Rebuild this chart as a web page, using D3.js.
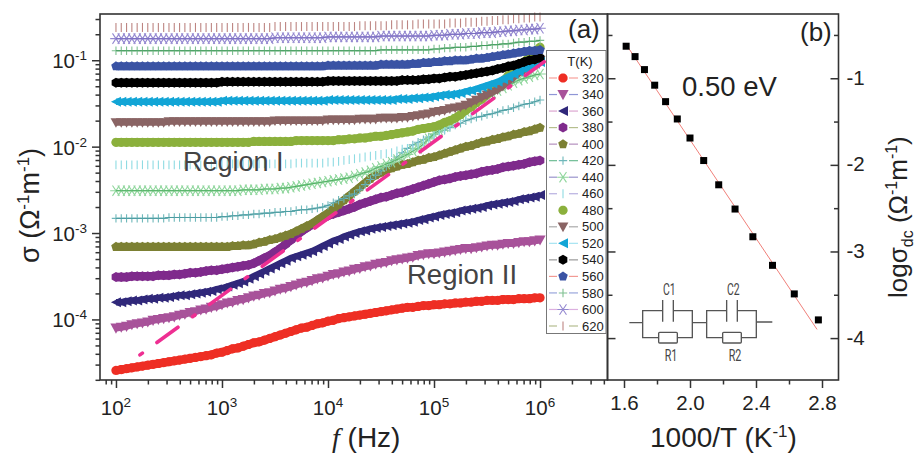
<!DOCTYPE html>
<html>
<head>
<meta charset="utf-8">
<script src="https://cdn.jsdelivr.net/npm/d3@7"></script>
<style>
  html, body { margin: 0; padding: 0; background: #fff; }
  text { font-family: "Liberation Sans", Arial, sans-serif; fill: #222; }
</style>
</head>
<body>
<div id="chart"></div>
<script>
// log10(sigma) per temperature. Sweep runs 10^2 .. 10^6 Hz, 20 points per decade
const sigma320 = [-4.59,-4.58,-4.57,-4.56,-4.55,-4.54,-4.53,-4.52,-4.51,-4.50,-4.49,-4.48,-4.47,-4.46,-4.45,-4.44,-4.43,-4.42,-4.41,-4.39,
  -4.38,-4.36,-4.34,-4.33,-4.31,-4.29,-4.27,-4.26,-4.24,-4.22,-4.20,-4.18,-4.16,-4.14,-4.12,-4.10,-4.09,-4.07,-4.05,-4.04,
  -4.02,-4.01,-3.99,-3.98,-3.97,-3.96,-3.95,-3.94,-3.93,-3.92,-3.91,-3.90,-3.89,-3.88,-3.87,-3.86,-3.86,-3.85,-3.84,-3.84,
  -3.83,-3.83,-3.82,-3.82,-3.81,-3.81,-3.80,-3.80,-3.79,-3.79,-3.78,-3.78,-3.78,-3.77,-3.77,-3.77,-3.76,-3.76,-3.76,-3.75,-3.75];
const sigma340 = [-4.10,-4.09,-4.08,-4.06,-4.05,-4.04,-4.03,-4.01,-4.00,-3.99,-3.98,-3.97,-3.95,-3.94,-3.92,-3.91,-3.89,-3.88,-3.86,-3.85,
  -3.83,-3.81,-3.80,-3.78,-3.77,-3.75,-3.73,-3.72,-3.70,-3.69,-3.67,-3.65,-3.64,-3.62,-3.60,-3.58,-3.57,-3.55,-3.53,-3.52,
  -3.50,-3.48,-3.47,-3.45,-3.44,-3.42,-3.41,-3.39,-3.38,-3.36,-3.35,-3.34,-3.32,-3.31,-3.30,-3.29,-3.28,-3.26,-3.25,-3.24,
  -3.24,-3.23,-3.22,-3.21,-3.20,-3.19,-3.18,-3.18,-3.17,-3.16,-3.15,-3.14,-3.14,-3.13,-3.12,-3.12,-3.11,-3.10,-3.10,-3.09,-3.08];
const sigma360 = [-3.80,-3.80,-3.79,-3.78,-3.78,-3.77,-3.76,-3.76,-3.75,-3.75,-3.74,-3.73,-3.72,-3.72,-3.71,-3.70,-3.69,-3.68,-3.67,-3.65,
  -3.64,-3.62,-3.60,-3.58,-3.56,-3.53,-3.50,-3.47,-3.44,-3.41,-3.38,-3.35,-3.32,-3.29,-3.27,-3.25,-3.23,-3.21,-3.18,-3.15,
  -3.12,-3.09,-3.07,-3.04,-3.02,-3.00,-2.98,-2.97,-2.95,-2.94,-2.93,-2.92,-2.91,-2.90,-2.89,-2.88,-2.87,-2.85,-2.84,-2.82,
  -2.81,-2.79,-2.78,-2.77,-2.76,-2.74,-2.73,-2.72,-2.71,-2.70,-2.68,-2.67,-2.66,-2.65,-2.64,-2.63,-2.61,-2.60,-2.59,-2.58,-2.56];
const sigma380 = [-3.51,-3.51,-3.51,-3.50,-3.50,-3.50,-3.50,-3.50,-3.49,-3.49,-3.49,-3.48,-3.48,-3.47,-3.46,-3.46,-3.45,-3.44,-3.43,-3.43,
  -3.42,-3.41,-3.40,-3.39,-3.38,-3.37,-3.35,-3.32,-3.29,-3.26,-3.22,-3.18,-3.13,-3.08,-3.03,-2.98,-2.94,-2.90,-2.86,-2.83,
  -2.80,-2.78,-2.76,-2.74,-2.72,-2.70,-2.67,-2.65,-2.63,-2.61,-2.59,-2.58,-2.56,-2.54,-2.53,-2.51,-2.49,-2.47,-2.45,-2.43,
  -2.41,-2.39,-2.38,-2.37,-2.35,-2.34,-2.33,-2.32,-2.31,-2.29,-2.28,-2.27,-2.26,-2.24,-2.23,-2.22,-2.21,-2.20,-2.18,-2.17,-2.16];
const sigma400 = [-3.16,-3.16,-3.16,-3.16,-3.16,-3.16,-3.16,-3.16,-3.16,-3.16,-3.16,-3.16,-3.16,-3.16,-3.16,-3.16,-3.16,-3.16,-3.16,-3.16,
  -3.16,-3.16,-3.15,-3.15,-3.14,-3.14,-3.13,-3.11,-3.10,-3.08,-3.07,-3.05,-3.03,-3.01,-2.98,-2.95,-2.92,-2.89,-2.85,-2.81,
  -2.77,-2.72,-2.67,-2.62,-2.57,-2.52,-2.47,-2.42,-2.37,-2.33,-2.30,-2.27,-2.25,-2.23,-2.21,-2.20,-2.18,-2.16,-2.15,-2.13,
  -2.12,-2.10,-2.08,-2.06,-2.04,-2.02,-2.00,-1.99,-1.97,-1.95,-1.94,-1.92,-1.91,-1.89,-1.88,-1.86,-1.85,-1.83,-1.82,-1.80,-1.78];
const sigma420 = [-2.83,-2.83,-2.83,-2.83,-2.83,-2.83,-2.83,-2.83,-2.83,-2.83,-2.82,-2.82,-2.82,-2.82,-2.82,-2.82,-2.82,-2.82,-2.82,-2.82,
  -2.81,-2.81,-2.80,-2.80,-2.79,-2.79,-2.78,-2.78,-2.77,-2.77,-2.76,-2.76,-2.75,-2.75,-2.74,-2.73,-2.73,-2.72,-2.71,-2.70,
  -2.68,-2.65,-2.62,-2.60,-2.57,-2.55,-2.50,-2.44,-2.38,-2.33,-2.28,-2.23,-2.18,-2.12,-2.07,-2.02,-1.98,-1.95,-1.92,-1.89,
  -1.86,-1.83,-1.81,-1.78,-1.75,-1.73,-1.70,-1.68,-1.66,-1.65,-1.63,-1.62,-1.60,-1.58,-1.57,-1.55,-1.53,-1.51,-1.50,-1.48,-1.46];
const sigma440 = [-2.51,-2.51,-2.51,-2.51,-2.51,-2.51,-2.51,-2.51,-2.51,-2.51,-2.51,-2.51,-2.51,-2.51,-2.51,-2.51,-2.51,-2.51,-2.51,-2.51,
  -2.51,-2.51,-2.51,-2.51,-2.50,-2.50,-2.50,-2.50,-2.49,-2.49,-2.49,-2.48,-2.48,-2.47,-2.46,-2.45,-2.44,-2.43,-2.42,-2.41,
  -2.40,-2.39,-2.38,-2.37,-2.36,-2.34,-2.32,-2.30,-2.28,-2.25,-2.23,-2.20,-2.18,-2.15,-2.12,-2.09,-2.05,-2.02,-1.97,-1.91,
  -1.85,-1.81,-1.77,-1.72,-1.68,-1.63,-1.59,-1.54,-1.50,-1.46,-1.42,-1.38,-1.35,-1.32,-1.29,-1.26,-1.23,-1.21,-1.19,-1.17,-1.16];
const sigma460 = [-2.21,-2.21,-2.21,-2.21,-2.21,-2.21,-2.21,-2.21,-2.21,-2.21,-2.21,-2.21,-2.21,-2.21,-2.21,-2.21,-2.21,-2.21,-2.21,-2.21,
  -2.20,-2.20,-2.20,-2.20,-2.20,-2.20,-2.20,-2.20,-2.20,-2.20,-2.20,-2.20,-2.20,-2.20,-2.19,-2.19,-2.19,-2.19,-2.19,-2.19,
  -2.18,-2.18,-2.17,-2.16,-2.15,-2.14,-2.13,-2.12,-2.11,-2.10,-2.09,-2.08,-2.07,-2.05,-2.03,-2.02,-2.00,-1.98,-1.95,-1.92,
  -1.88,-1.84,-1.80,-1.76,-1.72,-1.68,-1.64,-1.60,-1.55,-1.50,-1.44,-1.39,-1.34,-1.29,-1.24,-1.18,-1.14,-1.09,-1.05,-1.00,-0.95];
const sigma480 = [-1.95,-1.95,-1.95,-1.95,-1.95,-1.95,-1.95,-1.95,-1.95,-1.95,-1.95,-1.95,-1.95,-1.95,-1.95,-1.95,-1.95,-1.95,-1.95,-1.95,
  -1.95,-1.95,-1.95,-1.95,-1.95,-1.95,-1.94,-1.94,-1.94,-1.94,-1.94,-1.94,-1.94,-1.94,-1.93,-1.93,-1.93,-1.93,-1.93,-1.93,
  -1.93,-1.93,-1.92,-1.92,-1.91,-1.91,-1.90,-1.90,-1.89,-1.88,-1.88,-1.87,-1.86,-1.85,-1.84,-1.83,-1.82,-1.80,-1.79,-1.78,
  -1.77,-1.75,-1.72,-1.70,-1.67,-1.63,-1.58,-1.54,-1.49,-1.45,-1.40,-1.35,-1.30,-1.24,-1.18,-1.12,-1.07,-1.02,-0.96,-0.90,-0.85];
const sigma500 = [-1.72,-1.72,-1.72,-1.72,-1.72,-1.72,-1.72,-1.72,-1.72,-1.72,-1.71,-1.71,-1.71,-1.71,-1.71,-1.71,-1.71,-1.71,-1.71,-1.71,
  -1.71,-1.71,-1.71,-1.71,-1.71,-1.71,-1.71,-1.71,-1.71,-1.71,-1.70,-1.70,-1.70,-1.70,-1.70,-1.70,-1.70,-1.70,-1.70,-1.70,
  -1.69,-1.69,-1.69,-1.69,-1.69,-1.69,-1.68,-1.68,-1.68,-1.68,-1.67,-1.67,-1.67,-1.67,-1.66,-1.66,-1.65,-1.64,-1.63,-1.62,
  -1.60,-1.59,-1.58,-1.56,-1.55,-1.54,-1.52,-1.49,-1.46,-1.43,-1.40,-1.37,-1.34,-1.30,-1.25,-1.20,-1.15,-1.11,-1.07,-1.03,-1.00];
const sigma520 = [-1.48,-1.48,-1.48,-1.48,-1.48,-1.48,-1.48,-1.48,-1.48,-1.48,-1.48,-1.48,-1.48,-1.48,-1.48,-1.48,-1.48,-1.48,-1.48,-1.48,
  -1.47,-1.47,-1.47,-1.47,-1.47,-1.47,-1.47,-1.47,-1.47,-1.47,-1.47,-1.47,-1.47,-1.47,-1.47,-1.47,-1.47,-1.47,-1.47,-1.47,
  -1.46,-1.46,-1.46,-1.46,-1.46,-1.46,-1.46,-1.46,-1.46,-1.46,-1.46,-1.46,-1.46,-1.45,-1.45,-1.45,-1.44,-1.44,-1.43,-1.43,
  -1.42,-1.41,-1.40,-1.40,-1.39,-1.38,-1.36,-1.35,-1.33,-1.31,-1.29,-1.27,-1.25,-1.22,-1.19,-1.16,-1.13,-1.10,-1.07,-1.04,-1.02];
const sigma540 = [-1.26,-1.26,-1.26,-1.26,-1.26,-1.26,-1.26,-1.26,-1.26,-1.26,-1.26,-1.26,-1.26,-1.26,-1.26,-1.26,-1.26,-1.26,-1.26,-1.26,
  -1.25,-1.25,-1.25,-1.25,-1.25,-1.25,-1.25,-1.25,-1.25,-1.25,-1.25,-1.25,-1.25,-1.25,-1.25,-1.25,-1.25,-1.25,-1.25,-1.25,
  -1.24,-1.24,-1.24,-1.24,-1.24,-1.24,-1.24,-1.24,-1.24,-1.24,-1.24,-1.24,-1.24,-1.24,-1.23,-1.23,-1.23,-1.23,-1.22,-1.22,
  -1.21,-1.21,-1.20,-1.19,-1.19,-1.18,-1.17,-1.16,-1.15,-1.14,-1.13,-1.12,-1.10,-1.09,-1.07,-1.06,-1.04,-1.02,-1.00,-0.99,-0.97];
const sigma560 = [-1.07,-1.07,-1.07,-1.07,-1.07,-1.07,-1.07,-1.07,-1.07,-1.07,-1.07,-1.07,-1.07,-1.07,-1.07,-1.07,-1.07,-1.07,-1.07,-1.07,
  -1.07,-1.07,-1.07,-1.07,-1.07,-1.07,-1.07,-1.07,-1.07,-1.07,-1.07,-1.07,-1.07,-1.07,-1.07,-1.07,-1.07,-1.07,-1.07,-1.07,
  -1.06,-1.06,-1.06,-1.06,-1.06,-1.06,-1.06,-1.06,-1.06,-1.06,-1.05,-1.05,-1.05,-1.05,-1.05,-1.05,-1.04,-1.04,-1.03,-1.03,
  -1.02,-1.02,-1.01,-1.01,-1.00,-1.00,-1.00,-0.99,-0.98,-0.98,-0.97,-0.96,-0.95,-0.94,-0.93,-0.92,-0.91,-0.90,-0.89,-0.89,-0.88];
const sigma580 = [-0.89,-0.89,-0.89,-0.89,-0.89,-0.89,-0.89,-0.89,-0.89,-0.89,-0.89,-0.89,-0.89,-0.89,-0.89,-0.89,-0.89,-0.89,-0.89,-0.89,
  -0.89,-0.89,-0.89,-0.89,-0.89,-0.89,-0.89,-0.89,-0.89,-0.89,-0.89,-0.89,-0.89,-0.89,-0.89,-0.89,-0.89,-0.89,-0.89,-0.89,
  -0.89,-0.89,-0.89,-0.89,-0.89,-0.89,-0.89,-0.89,-0.89,-0.89,-0.88,-0.88,-0.88,-0.88,-0.88,-0.88,-0.88,-0.88,-0.88,-0.88,
  -0.87,-0.87,-0.86,-0.86,-0.85,-0.85,-0.85,-0.84,-0.84,-0.83,-0.83,-0.82,-0.82,-0.81,-0.81,-0.80,-0.79,-0.79,-0.78,-0.78,-0.77];
const sigma600 = [-0.75,-0.75,-0.75,-0.75,-0.75,-0.75,-0.75,-0.75,-0.75,-0.75,-0.75,-0.75,-0.75,-0.75,-0.75,-0.75,-0.75,-0.75,-0.75,-0.75,
  -0.75,-0.75,-0.75,-0.75,-0.75,-0.75,-0.75,-0.75,-0.75,-0.75,-0.74,-0.74,-0.74,-0.74,-0.74,-0.74,-0.74,-0.74,-0.74,-0.74,
  -0.73,-0.73,-0.73,-0.73,-0.73,-0.73,-0.73,-0.73,-0.73,-0.73,-0.72,-0.72,-0.72,-0.72,-0.72,-0.72,-0.72,-0.72,-0.72,-0.72,
  -0.71,-0.71,-0.71,-0.70,-0.70,-0.70,-0.69,-0.69,-0.69,-0.68,-0.68,-0.68,-0.67,-0.67,-0.66,-0.66,-0.65,-0.65,-0.64,-0.64,-0.63];
const sigma620 = [-0.62,-0.62,-0.62,-0.62,-0.62,-0.62,-0.62,-0.62,-0.62,-0.62,-0.62,-0.62,-0.62,-0.62,-0.62,-0.62,-0.62,-0.62,-0.62,-0.62,
  -0.62,-0.62,-0.62,-0.62,-0.62,-0.62,-0.62,-0.62,-0.62,-0.62,-0.61,-0.61,-0.61,-0.61,-0.61,-0.61,-0.61,-0.61,-0.61,-0.61,
  -0.61,-0.61,-0.61,-0.61,-0.61,-0.61,-0.60,-0.60,-0.60,-0.60,-0.60,-0.60,-0.59,-0.59,-0.59,-0.59,-0.59,-0.58,-0.58,-0.58,
  -0.58,-0.58,-0.58,-0.57,-0.57,-0.57,-0.56,-0.56,-0.56,-0.55,-0.55,-0.54,-0.54,-0.53,-0.53,-0.52,-0.52,-0.51,-0.51,-0.50,-0.50];

const temps = [320, 340, 360, 380, 400, 420, 440, 460, 480, 500, 520, 540, 560, 580, 600, 620];
const sigmas = [sigma320, sigma340, sigma360, sigma380, sigma400, sigma420, sigma440, sigma460, sigma480, sigma500, sigma520, sigma540, sigma560, sigma580, sigma600, sigma620];

// Panel (a) dash-dot guide, [log10 f, log10 sigma] of its two ends
const guideF = [2.226, 6.04];
const guideS = [-4.41, -1.017];

// Panel (b) Arrhenius points and fit
const inverseT = [1.613, 1.667, 1.724, 1.786, 1.852, 1.923, 2.0, 2.083, 2.174, 2.273, 2.381, 2.5, 2.632, 2.778];
const logDc = [-0.63, -0.75, -0.90, -1.08, -1.27, -1.47, -1.69, -1.95, -2.23, -2.51, -2.83, -3.16, -3.49, -3.79];
const fitX = [1.62, 2.77];
const fitY = [-0.63, -3.90];

const xMajorsA = [2, 3, 4, 5, 6];
const yMajorsA = [-1, -2, -3, -4];
const xTicksB = [1.6, 1.8, 2.0, 2.2, 2.4, 2.6, 2.8];
const yTicksB = [-0.5, -1, -1.5, -2, -2.5, -3, -3.5, -4];

const width = 919;
const height = 453;
const axisColor = "#333";

const svg = d3.select("#chart").append("svg")
  .attr("width", width)
  .attr("height", height)
  .style("display", "block");

// Scales
const xA = d3.scaleLog().domain([70.7, 4.33e6]).range([100, 607.5]);
const yA = d3.scaleLog().domain([1.99e-5, 0.343]).range([380, 14]);
const xB = d3.scaleLinear().domain([1.5, 2.9]).range([607.5, 838.5]);
const yB = d3.scaleLinear().domain([-4.484, -0.258]).range([380, 14]);

// Marker shapes
function polygon(points) {
  return {
    draw(ctx, size) {
      const r = Math.sqrt(size);
      points.forEach((p, i) => {
        if (i === 0) ctx.moveTo(p[0] * r, p[1] * r);
        else ctx.lineTo(p[0] * r, p[1] * r);
      });
      ctx.closePath();
    }
  };
}
function regular(n, start) {
  return polygon(d3.range(n).map(i => {
    const a = start + i * 2 * Math.PI / n;
    return [Math.cos(a), Math.sin(a)];
  }));
}
const crossMark = {
  draw(ctx, size) {
    const r = Math.sqrt(size);
    ctx.moveTo(-r, 0); ctx.lineTo(r, 0);
    ctx.moveTo(0, -r); ctx.lineTo(0, r);
  }
};
const starMark = {
  draw(ctx, size) {
    const r = Math.sqrt(size);
    ctx.moveTo(-r, 0); ctx.lineTo(r, 0);
    ctx.moveTo(-r * 0.6, -r * 0.9); ctx.lineTo(r * 0.6, r * 0.9);
    ctx.moveTo(-r * 0.6, r * 0.9); ctx.lineTo(r * 0.6, -r * 0.9);
  }
};
const barMark = {
  draw(ctx, size) {
    const r = Math.sqrt(size);
    ctx.moveTo(0, -r); ctx.lineTo(0, r);
  }
};
const circle = regular(24, 0);
const triDown = polygon([[-1, -0.8], [1, -0.8], [0, 1]]);
const triLeft = polygon([[1, -1], [1, 1], [-1, 0]]);
const hexagon = regular(6, Math.PI / 6);
const pentagon = regular(5, -Math.PI / 2);

// Marker and legend line styles, one per temperature. band = width of the solid run the overlapping markers make
const styles = [
  { shape: circle, r: 4.6, color: "#ee2e24", key: "#f6a09a", band: 8.4 },
  { shape: triDown, r: 5.6, color: "#a8529a", key: "#8f96d6", band: 7 },
  { shape: triLeft, r: 5, color: "#30287a", key: "#dca6d0", band: 6.5 },
  { shape: hexagon, r: 5, color: "#7f2a8c", key: "#b6bf8e", band: 8.6 },
  { shape: pentagon, r: 5, color: "#7c8033", key: "#b48fbe", band: 8 },
  { shape: crossMark, r: 4.2, color: "#6fb8ba", key: "#6fbd94", line: "#4a9aa0", stroke: true },
  { shape: starMark, r: 5.8, color: "#8fd69c", key: "#9a94cc", line: "#4fae62", stroke: true },
  { shape: barMark, r: 4.4, color: "#8edbe2", key: "#b8b0e0", stroke: true },
  { shape: circle, r: 4.6, color: "#8bb03c", key: null, band: 8.4 },
  { shape: triDown, r: 5.4, color: "#8a6464", key: "#aaaaaa", band: 6.5 },
  { shape: triLeft, r: 5, color: "#12a5d6", key: "#a5e4f2", band: 6.5 },
  { shape: hexagon, r: 5, color: "#000", key: "#999999", band: 8.4 },
  { shape: pentagon, r: 5, color: "#3a53a4", key: "#f29a94", band: 8 },
  { shape: crossMark, r: 4.2, color: "#7fc091", key: "#9aa6dc", line: "#3f9a5a", stroke: true },
  { shape: starMark, r: 5.8, color: "#9488d0", key: "#dcb0e0", line: "#7a6cc0", stroke: true },
  { shape: barMark, r: 4.5, color: "#bd8582", key: "#b4bc90", stroke: true }
];

function symbolPath(style) {
  return d3.symbol().type(style.shape).size(style.r * style.r)();
}

// Curves of panel (a), cooler ones first so hotter ones lie on top
const logF = i => 2 + i * 0.05;
const curve = d3.line()
  .x((d, i) => xA(Math.pow(10, logF(i))))
  .y(d => yA(Math.pow(10, d)));

sigmas.forEach((values, k) => {
  const st = styles[k];
  const g = svg.append("g").attr("class", "series-" + temps[k]);
  if (st.band) {
    g.append("path")
      .datum(values)
      .attr("d", curve)
      .attr("fill", "none")
      .attr("stroke", st.color)
      .attr("stroke-width", st.band);
  }
  g.selectAll("path.mark")
    .data(values)
    .enter()
    .append("path")
    .attr("class", "mark")
    .attr("transform", (d, i) => `translate(${xA(Math.pow(10, logF(i)))},${yA(Math.pow(10, d))})`)
    .attr("d", symbolPath(st))
    .attr("fill", st.stroke ? "none" : st.color)
    .attr("stroke", st.color)
    .attr("stroke-width", st.stroke ? 1.1 : 0);
  if (st.line) {
    g.append("path")
      .datum(values)
      .attr("d", curve)
      .attr("fill", "none")
      .attr("stroke", st.line)
      .attr("stroke-width", 1);
  }
});

// Dash-dot guide
svg.append("path")
  .datum(guideF.map((f, i) => [f, guideS[i]]))
  .attr("d", d3.line().x(d => xA(Math.pow(10, d[0]))).y(d => yA(Math.pow(10, d[1]))))
  .attr("fill", "none")
  .attr("stroke", "#ee2f92")
  .attr("stroke-width", 3.6)
  .attr("stroke-linecap", "round")
  .attr("stroke-dasharray", "3 18 26 18");

// Frames
svg.append("rect").attr("x", 100).attr("y", 14).attr("width", 507.5).attr("height", 366)
  .attr("fill", "none").attr("stroke", axisColor).attr("stroke-width", 1.6);
svg.append("rect").attr("x", 607.5).attr("y", 14).attr("width", 231).attr("height", 366)
  .attr("fill", "none").attr("stroke", axisColor).attr("stroke-width", 1.6);

function styleAxis(g) {
  g.select(".domain").remove();
  g.selectAll(".tick line").attr("stroke", axisColor).attr("stroke-width", 1.5);
}

const isMajorLog = d => Math.abs(Math.log10(d) - Math.round(Math.log10(d))) < 1e-6;

// All decades' 1..9 multiples falling inside a log scale
function logTicks(scale) {
  const [a, b] = scale.domain();
  const out = [];
  for (let e = Math.floor(Math.log10(a)); e <= Math.ceil(Math.log10(b)); e++) {
    for (let m = 1; m < 10; m++) {
      const v = m * Math.pow(10, e);
      if (v >= a && v <= b) out.push(v);
    }
  }
  return out;
}

// Panel (a) bottom axis
const gxA = svg.append("g")
  .attr("transform", "translate(0,380)")
  .call(d3.axisBottom(xA).tickValues(logTicks(xA)).tickFormat("").tickSizeOuter(0));
styleAxis(gxA);
gxA.selectAll(".tick line").attr("y2", d => isMajorLog(d) ? 8 : 4.5);

// Panel (a) left axis
const gyA = svg.append("g")
  .attr("transform", "translate(100,0)")
  .call(d3.axisLeft(yA).tickValues(logTicks(yA)).tickFormat("").tickSizeOuter(0));
styleAxis(gyA);
gyA.selectAll(".tick line").attr("x2", d => isMajorLog(d) ? -8 : -4.5);

// Power-of-ten labels
function powerLabel(x, y, exp, anchor) {
  const t = svg.append("text")
    .attr("x", x)
    .attr("y", y)
    .attr("text-anchor", anchor)
    .attr("font-size", 20.5);
  t.append("tspan").text("10");
  t.append("tspan").attr("dy", -8).attr("font-size", 13.5).text(exp);
}
xMajorsA.forEach(e => powerLabel(xA(Math.pow(10, e)), 415, e, "middle"));
yMajorsA.forEach(e => powerLabel(87, yA(Math.pow(10, e)) + 8, e, "end"));

// Panel (b) axes
const gxB = svg.append("g")
  .attr("transform", "translate(0,380)")
  .call(d3.axisBottom(xB).tickValues(xTicksB).tickFormat(d => Math.round(d * 10) % 4 === 0 ? d3.format(".1f")(d) : "").tickSizeOuter(0));
styleAxis(gxB);
gxB.selectAll(".tick line").attr("y2", d => Math.round(d * 10) % 4 === 0 ? 8 : 4.5);
gxB.selectAll(".tick text")
  .attr("font-size", 20.5)
  .attr("font-family", "Liberation Sans")
  .attr("dy", 0)
  .attr("y", 30);

const gyBl = svg.append("g")
  .attr("transform", "translate(607.5,0)")
  .call(d3.axisLeft(yB).tickValues(yTicksB).tickFormat("").tickSizeOuter(0));
styleAxis(gyBl);
gyBl.selectAll(".tick line").attr("x2", d => Number.isInteger(d) ? 8 : 5);

const gyBr = svg.append("g")
  .attr("transform", "translate(838.5,0)")
  .call(d3.axisRight(yB).tickValues(yTicksB).tickFormat(d => Number.isInteger(d) ? d3.format("d")(d).replace("\u2212", "-") : "").tickSizeOuter(0));
styleAxis(gyBr);
gyBr.selectAll(".tick line").attr("x2", d => Number.isInteger(d) ? -8 : -4.5);
gyBr.selectAll(".tick text")
  .attr("font-size", 20.5)
  .attr("font-family", "Liberation Sans")
  .attr("text-anchor", "start")
  .attr("x", 8)
  .attr("dy", 6);

// Panel (b) fit and points
svg.append("path")
  .datum(fitX.map((x, i) => [x, fitY[i]]))
  .attr("d", d3.line().x(d => xB(d[0])).y(d => yB(d[1])))
  .attr("fill", "none")
  .attr("stroke", "#f0807a")
  .attr("stroke-width", 1);

svg.selectAll("rect.point")
  .data(inverseT)
  .enter()
  .append("rect")
  .attr("class", "point")
  .attr("x", d => xB(d) - 3.5)
  .attr("y", (d, i) => yB(logDc[i]) - 3.5)
  .attr("width", 7)
  .attr("height", 7)
  .attr("fill", "#000");

// Legend
const legend = svg.append("g");
legend.append("rect")
  .attr("x", 546.5).attr("y", 50.5).attr("width", 59.5).attr("height", 283)
  .attr("fill", "#fff").attr("stroke", "#777").attr("stroke-width", 1);
legend.append("text")
  .attr("x", 580).attr("y", 66)
  .attr("text-anchor", "middle")
  .attr("font-size", 13)
  .text("T(K)");

const legendY = d3.scaleLinear().domain([0, temps.length - 1]).range([78, 326]);
temps.forEach((t, k) => {
  const st = styles[k];
  const y = legendY(k);
  if (st.key) {
    legend.append("line")
      .attr("x1", 549).attr("x2", 578)
      .attr("y1", y).attr("y2", y)
      .attr("stroke", st.key)
      .attr("stroke-width", 1.2);
    // gap behind the open markers, as in the key
    legend.append("rect")
      .attr("x", 557).attr("y", y - 3).attr("width", 12).attr("height", 6)
      .attr("fill", "#fff");
  }
  legend.append("path")
    .attr("transform", `translate(563,${y})`)
    .attr("d", symbolPath(st))
    .attr("fill", st.stroke ? "none" : st.color)
    .attr("stroke", st.color)
    .attr("stroke-width", st.stroke ? 1.1 : 0);
  legend.append("text")
    .attr("x", 582).attr("y", y + 4.6)
    .attr("font-size", 13)
    .text(t);
});

// Annotations
function note(x, y, size, str, color) {
  return svg.append("text")
    .attr("x", x).attr("y", y)
    .attr("font-size", size)
    .style("fill", color || "#222")
    .text(str);
}
note(183, 171, 27, "Region I", "#444");
note(407, 284, 27.5, "Region II", "#444");
note(568, 38, 26, "(a)");
note(800, 41, 26, "(b)");
note(682, 96, 27.5, "0.50 eV");

// Axis titles
const titleA = svg.append("text")
  .attr("transform", "translate(39,263) rotate(-90)")
  .attr("font-size", 27);
titleA.append("tspan").text("\u03c3 (\u03a9");
titleA.append("tspan").attr("dy", -10).attr("font-size", 17).text("-1");
titleA.append("tspan").attr("dy", 10).text("m");
titleA.append("tspan").attr("dy", -10).attr("font-size", 17).text("-1");
titleA.append("tspan").attr("dy", 10).text(")");

const titleF = svg.append("text").attr("x", 332).attr("y", 447).attr("font-size", 28);
titleF.append("tspan").attr("font-style", "italic").style("font-family", "Liberation Serif").text("f");
titleF.append("tspan").text(" (Hz)");

const titleT = svg.append("text").attr("x", 650).attr("y", 447).attr("font-size", 28);
titleT.append("tspan").text("1000/T (K");
titleT.append("tspan").attr("dy", -10).attr("font-size", 17).text("-1");
titleT.append("tspan").attr("dy", 10).text(")");

const titleB = svg.append("text")
  .attr("transform", "translate(907,298) rotate(-90)")
  .attr("font-size", 26);
titleB.append("tspan").text("log\u03c3");
titleB.append("tspan").attr("dy", 6).attr("font-size", 16).text("dc");
titleB.append("tspan").attr("dy", -6).text(" (\u03a9");
titleB.append("tspan").attr("dy", -10).attr("font-size", 16).text("-1");
titleB.append("tspan").attr("dy", 10).text("m");
titleB.append("tspan").attr("dy", -10).attr("font-size", 16).text("-1");
titleB.append("tspan").attr("dy", 10).text(")");

// Equivalent circuit inset
const inset = svg.append("g").attr("transform", "translate(600,225) scale(0.3333)");
function rcCell(dx, cLabel, rLabel) {
  const c = inset.append("g").attr("transform", `translate(${dx},0)`);
  c.append("path")
    .attr("d", "M128 293V257H188M220 257H277V338H232M176 338H128V293")
    .attr("fill", "none").attr("stroke", "#555").attr("stroke-width", 4);
  c.append("path")
    .attr("d", "M188 225V290M220 225V290")
    .attr("fill", "none").attr("stroke", "#555").attr("stroke-width", 4);
  c.append("rect")
    .attr("x", 176).attr("y", 322).attr("width", 56).attr("height", 32).attr("rx", 3)
    .attr("fill", "#fff").attr("stroke", "#555").attr("stroke-width", 4);
  c.append("text").attr("x", 208).attr("y", 210).attr("text-anchor", "middle")
    .attr("font-size", 48).style("font-family", "Roboto").attr("textLength", 38).attr("lengthAdjust", "spacingAndGlyphs")
    .style("fill", "#444").text(cLabel);
  c.append("text").attr("x", 213).attr("y", 409).attr("text-anchor", "middle")
    .attr("font-size", 48).style("font-family", "Roboto").attr("textLength", 38).attr("lengthAdjust", "spacingAndGlyphs")
    .style("fill", "#444").text(rLabel);
}
rcCell(0, "C1", "R1");
rcCell(192, "C2", "R2");
inset.append("path")
  .attr("d", "M88 293H128M277 293H320M470 291H517")
  .attr("fill", "none").attr("stroke", "#555").attr("stroke-width", 4);
</script>
</body>
</html>
